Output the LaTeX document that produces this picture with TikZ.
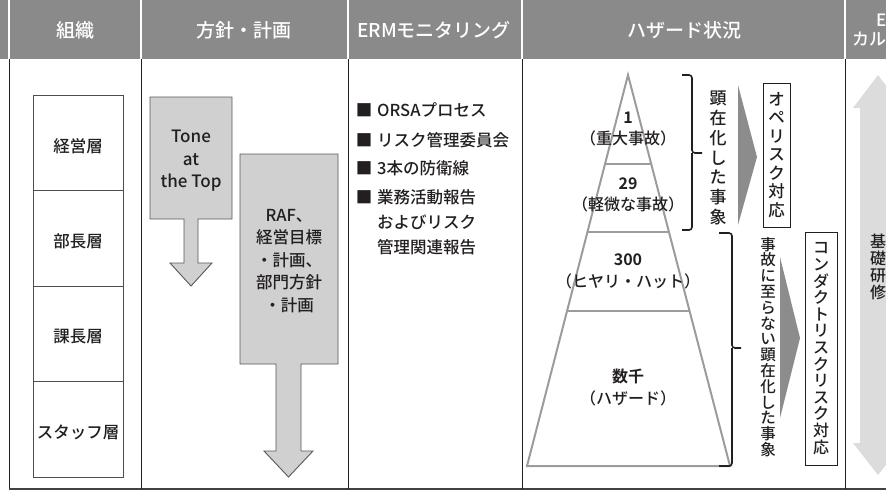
\documentclass[tikz,border=0pt]{standalone}
\usepackage{fontspec}
\setmainfont{Noto Sans CJK JP}[UprightFont={* Medium}, BoldFont={* Bold}]
\usetikzlibrary{calc}
\definecolor{hdr}{HTML}{8A8A8A}
\definecolor{arrfill}{HTML}{D0D0D0}
\definecolor{pyrline}{HTML}{9C9C9C}
\definecolor{tri}{HTML}{8C8C8C}
\definecolor{dbl}{HTML}{DCDCDC}
\definecolor{ink}{HTML}{231F20}
\newcommand\tightls{\setlength{\lineskiplimit}{-6pt}}
\begin{document}
\begin{tikzpicture}[x=1pt,y=-1pt,
  hdtext/.style={text=white, font=\fontsize{19}{22}\selectfont, inner sep=0},
  body/.style={text=ink, font=\fontsize{16.5}{21}\selectfont, inner sep=0, align=center},
  orgbox/.style={draw=ink!80, line width=0.9, minimum width=90, minimum height=95.5, inner sep=0},
  blockarrow/.style={fill=arrfill, draw=ink!75, line width=0.9, line join=miter},
  pyr/.style={draw=pyrline, line width=2, line join=miter},
  bracket/.style={draw=ink, line width=1.6, rounded corners=3},
  vbox/.style={draw=ink, line width=0.9, inner sep=0, align=center, text=ink},
  tabline/.style={draw=ink, line width=0.9}
]
\useasboundingbox (0,0) rectangle (886,496);
\clip (0,0) rectangle (886,496);

% header
\fill[hdr] (0,0) rectangle (886,58.5);
\foreach \xx in {9,141,348,522,845} \draw[white, line width=1.2] (\xx,0) -- (\xx,58.5);
\node[hdtext] (h1) at (75,30) {組織};
\node[hdtext] (h2) at (244,30) {方針・計画};
\node[hdtext] (h3) at (434,30) {ERMモニタリング};
\node[hdtext] (h4) at (684,30) {ハザード状況};
\node[hdtext, anchor=west, font=\fontsize{17}{20}\selectfont] (h5) at (876,20) {E};
\node[hdtext, anchor=west, font=\fontsize{17}{20}\selectfont] (h6) at (852,39) {カル};

% table lines
\draw[tabline] (9,58.5) -- (9,489);
\draw[draw=ink!85, line width=1.3] (9,489) -- (886,489);
\foreach \xx in {141,348,522,845} \draw[tabline] (\xx,58.5) -- (\xx,489);

% organisation
\node[orgbox] (keiei) at (78,143) {};
\node[orgbox] (bucho) at (78,238.5) {};
\node[orgbox] (kacho) at (78,334) {};
\node[orgbox] (staff) at (78,429.5) {};
\node[body] (keieit) at ($(keiei)+(0,3)$) {経営層};
\node[body] (buchot) at ($(bucho)+(0,3)$) {部長層};
\node[body] (kachot) at ($(kacho)+(0,3)$) {課長層};
\node[body] (stafft) at ($(staff)+(0,3)$) {スタッフ層};

% policy arrows
\draw[blockarrow] (150,97) -- (232,97) -- (232,219) -- (198,219) -- (198,263) -- (212,263) -- (191,286) -- (170,263) -- (184,263) -- (184,219) -- (150,219) -- cycle;
\node[body, font=\fontsize{17}{22.5}\selectfont] (tone) at (191,161) {Tone\\at\\the Top};
\draw[blockarrow] (240,154) -- (338,154) -- (338,364) -- (301,364) -- (301,451) -- (313,451) -- (288.5,477) -- (264,451) -- (276,451) -- (276,364) -- (240,364) -- cycle;
\node[body, font=\fontsize{16.5}{22.5}\selectfont] (raf) at (289,261) {RAF、\\経営目標\\・計画、\\部門方針\\・計画};

% ERM monitoring
\node[body] (sq1) at (364,110) {■};
\node[body, anchor=west] (e1) at (377,110) {ORSAプロセス};
\node[body] (sq2) at (364,140) {■};
\node[body, anchor=west] (e2) at (377,140) {リスク管理委員会};
\node[body] (sq3) at (364,168) {■};
\node[body, anchor=west] (e3) at (377,168) {3本の防衛線};
\node[body] (sq4) at (364,197) {■};
\node[body, anchor=west] (e4a) at (377,197) {業務活動報告};
\node[body, anchor=west] (e4b) at (377,222) {およびリスク};
\node[body, anchor=west] (e4c) at (377,247) {管理関連報告};

% pyramid
\coordinate (apex) at (628,75);
\coordinate (bl) at (527,466);
\coordinate (br) at (730,466);
\draw[pyr] (apex) -- (br) -- (bl) -- cycle;
\draw[pyr] ($(apex)!0.2276!(bl)$) -- ($(apex)!0.2276!(br)$);
\draw[pyr] ($(apex)!0.4015!(bl)$) -- ($(apex)!0.4015!(br)$);
\draw[pyr] ($(apex)!0.6036!(bl)$) -- ($(apex)!0.6036!(br)$);
\node[body, font=\fontsize{16}{21}\selectfont] (p1) at (628,129) {\textbf{1}\\（重大事故）};
\node[body, font=\fontsize{16}{21}\selectfont] (p2) at (628,195) {\textbf{29}\\（軽微な事故）};
\node[body, font=\fontsize{16}{22}\selectfont] (p3) at (628,271) {\textbf{300}\\（ヒヤリ・ハット）};
\node[body, font=\fontsize{16}{22}\selectfont] (p4) at (628,387) {\textbf{数千}\\（ハザード）};

% brackets
\draw[bracket] (682,75) -| (692,153) -- (702,153);
\draw[bracket] (692,153) |- (682,230);
\draw[bracket] (719,233) -| (732,348) -- (741,348);
\draw[bracket] (732,348) |- (719,466);

% upper group
\node[body, font=\fontsize{17}{19.8}\selectfont] (v1) at (718,158) {顕\\在\\化\\し\\た\\事\\象};
\fill[tri] (738,85) -- (757,157) -- (738,225) -- cycle;
\node[vbox, minimum width=27, minimum height=144, font=\fontsize{16.5}{18.5}\selectfont] (ope) at (776.5,155) {オ\\ペ\\リ\\ス\\ク\\対\\応};

% lower group
\node[body, font=\fontsize{15.5}{15.8}\selectfont\tightls] (v2) at (768,347) {事\\故\\に\\至\\ら\\な\\い\\顕\\在\\化\\し\\た\\事\\象};
\fill[tri] (780,257) -- (800,338) -- (780,418) -- cycle;
\node[vbox, minimum width=32, minimum height=233, font=\fontsize{16}{16.6}\selectfont\tightls] (cond) at (821,348.5) {コ\\ン\\ダ\\ク\\ト\\リ\\ス\\ク\\リ\\ス\\ク\\対\\応};

% basic training double arrow
\fill[dbl] (878,75) -- (903,108) -- (896,108) -- (896,443) -- (903,443) -- (878,475) -- (853,443) -- (860,443) -- (860,108) -- (853,108) -- cycle;
\node[body, font=\fontsize{16}{17}\selectfont\tightls] (kiso) at (878,267) {基\\礎\\研\\修};
\end{tikzpicture}
\end{document}
